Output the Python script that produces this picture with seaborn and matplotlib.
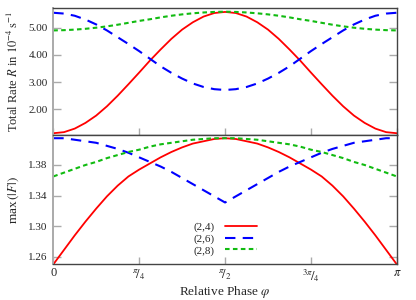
import matplotlib
matplotlib.use("Agg")
import matplotlib.pyplot as plt
import seaborn as sns
import pandas as pd

# Relative phase in units of pi (steps of pi/32)
phase = [k / 32 for k in range(33)]

# Total rate R in 1e-4 s^-1
rate_24 = [1.12, 1.16, 1.29, 1.50, 1.77, 2.11, 2.50, 2.92, 3.35, 3.79, 4.20, 4.59, 4.93, 5.20, 5.41, 5.54, 5.58,
           5.54, 5.41, 5.20, 4.93, 4.59, 4.20, 3.79, 3.35, 2.92, 2.50, 2.11, 1.77, 1.50, 1.29, 1.16, 1.12]
rate_26 = [5.55, 5.52, 5.44, 5.30, 5.12, 4.90, 4.65, 4.40, 4.14, 3.86, 3.58, 3.34, 3.13, 2.95, 2.82, 2.74, 2.71,
           2.74, 2.82, 2.95, 3.13, 3.34, 3.58, 3.86, 4.14, 4.40, 4.65, 4.90, 5.12, 5.30, 5.44, 5.52, 5.55]
rate_28 = [4.90, 4.91, 4.93, 4.96, 5.00, 5.05, 5.11, 5.18, 5.25, 5.31, 5.38, 5.44, 5.49, 5.53, 5.56, 5.58, 5.59,
           5.58, 5.56, 5.53, 5.49, 5.44, 5.38, 5.31, 5.25, 5.18, 5.11, 5.05, 5.00, 4.96, 4.93, 4.91, 4.90]

# max(|F|)
maxf_24 = [1.250, 1.269, 1.288, 1.306, 1.323, 1.339, 1.353, 1.365, 1.374, 1.382, 1.390, 1.397, 1.403, 1.408,
           1.411, 1.414, 1.415,
           1.414, 1.411, 1.408, 1.403, 1.397, 1.390, 1.382, 1.374, 1.365, 1.353, 1.339, 1.323, 1.306, 1.288,
           1.269, 1.250]
maxf_26 = [1.415, 1.415, 1.413, 1.411, 1.409, 1.405, 1.401, 1.396, 1.390, 1.384, 1.378, 1.371, 1.363, 1.355,
           1.347, 1.339, 1.331,
           1.339, 1.347, 1.355, 1.363, 1.371, 1.378, 1.384, 1.390, 1.396, 1.401, 1.405, 1.409, 1.411, 1.413,
           1.415, 1.415]
maxf_28 = [1.365, 1.370, 1.375, 1.380, 1.384, 1.389, 1.393, 1.397, 1.400, 1.404, 1.407, 1.409, 1.411, 1.413,
           1.414, 1.415, 1.415,
           1.415, 1.414, 1.413, 1.411, 1.409, 1.407, 1.404, 1.400, 1.397, 1.393, 1.389, 1.384, 1.380, 1.375,
           1.370, 1.365]

series_labels = ["(2,4)", "(2,6)", "(2,8)"]
x_tick_vals = [0, 0.25, 0.5, 0.75, 1.0]
x_tick_labels = ["0", r"$^{\pi}\!/_{4}$", r"$^{\pi}\!/_{2}$", r"$^{3\pi}\!/_{4}$", r"$\pi$"]
top_ticks = [2.0, 3.0, 4.0, 5.0]
bot_ticks = [1.26, 1.30, 1.34, 1.38]

sns.set_style("white")
plt.rcParams["font.family"] = ["Liberation Serif", "DejaVu Serif"]
plt.rcParams["mathtext.fontset"] = "stix"

styles = [
    dict(color="#ff0000", linewidth=1.3, linestyle="-"),
    dict(color="#0000ff", linewidth=1.5, linestyle=(0, (5, 3.5))),
    dict(color="#11bb11", linewidth=1.5, linestyle=(0, (2.2, 1.6))),
]

fig = plt.figure(figsize=(4.16, 3.0), dpi=100)
ax1 = fig.add_axes([0.128, 0.55, 0.826, 0.422])
ax2 = fig.add_axes([0.128, 0.119, 0.826, 0.431])

groups = sum([[s] * len(phase) for s in series_labels], [])
top_df = pd.DataFrame({"phase": phase * 3, "val": rate_24 + rate_26 + rate_28, "series": groups})
bot_df = pd.DataFrame({"phase": phase * 3, "val": maxf_24 + maxf_26 + maxf_28, "series": groups})

for i, s in enumerate(series_labels):
    sns.lineplot(data=top_df[top_df.series == s], x="phase", y="val", ax=ax1,
                 legend=False, **styles[i])
    sns.lineplot(data=bot_df[bot_df.series == s], x="phase", y="val", ax=ax2,
                 legend=False, label=s, **styles[i])

for ax in (ax1, ax2):
    ax.set_xlim(0, 1)
    ax.set_xticks(x_tick_vals)
    for side in ("top", "right", "bottom"):
        ax.spines[side].set_color("#444444")
        ax.spines[side].set_linewidth(1.0)
    ax.spines["left"].set_color("#aaaaaa")
    ax.spines["left"].set_linewidth(1.4)
    ax.tick_params(axis="x", direction="in", length=5, width=1.0, color="#aaaaaa",
                   top=False, bottom=True, labelsize=8, pad=2)
    ax.tick_params(axis="y", direction="in", length=6, width=1.0, color="#aaaaaa",
                   left=True, right=True, labelsize=8, pad=4)
    ax.set_xlabel("")
    ax.set_ylabel("")

ax1.set_ylim(1.055, 5.71)
ax1.set_yticks(top_ticks)
ax1.set_yticklabels([f"{v:.2f}" for v in top_ticks])
ax1.set_xticklabels([])

ax2.set_ylim(1.2502, 1.4192)
ax2.set_yticks(bot_ticks)
ax2.set_yticklabels([f"{v:.2f}" for v in bot_ticks])
ax2.set_xticklabels(x_tick_labels)
for lab in ax2.get_xticklabels():
    lab.set_fontsize(9)

for ax in (ax1, ax2):
    for t in ax.yaxis.get_major_ticks():
        t.tick2line.set_color("#555555")

ax1.set_ylabel(r"Total Rate $R$ in $10^{-4}\,\mathrm{s}^{-1}$", fontsize=9)
ax2.set_ylabel(r"max$\,(|F|)$", fontsize=9.5)
ax2.set_xlabel(r"Relative Phase $\varphi$", fontsize=9.5, labelpad=0)
ax1.yaxis.set_label_coords(-0.093, 0.5)
ax2.yaxis.set_label_coords(-0.093, 0.5)

ax2.legend(loc="center", bbox_to_anchor=(0.541, 0.204), bbox_transform=fig.transFigure,
           frameon=False, markerfirst=False, fontsize=8, handlelength=2.9,
           handletextpad=0.9, labelspacing=0.15, borderpad=0)

fig.savefig("out.png", dpi=100)
